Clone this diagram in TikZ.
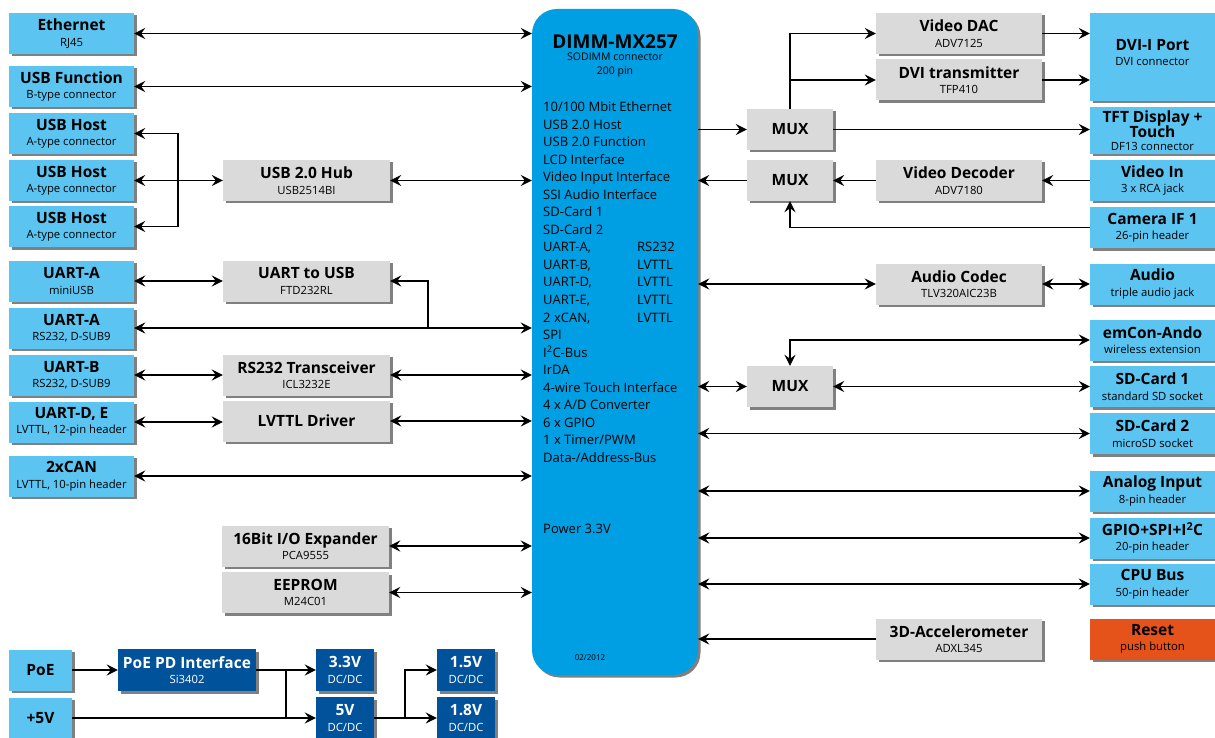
\documentclass[tikz,border=0pt]{standalone}
\usepackage{fontspec}
\setmainfont{Open Sans}
\usepackage{xcolor}
\definecolor{connblue}{RGB}{91,196,241}
\definecolor{dimmblue}{RGB}{0,159,227}
\definecolor{chipgray}{RGB}{218,218,218}
\definecolor{pwrblue}{RGB}{0,82,155}
\definecolor{resetorange}{RGB}{229,82,26}
\usetikzlibrary{arrows.meta, shadows}
\newcommand{\boxhd}[1]{{\fontsize{15.5}{15.5}\selectfont\bfseries #1}}
\newcommand{\boxsub}[1]{{\fontsize{11.3}{15.5}\selectfont #1}}

\begin{document}
\begin{tikzpicture}[
            x=1pt, y=-1pt,
            >={Stealth[length=11pt, width=11pt, inset=4pt]},
            link/.style={line width=1.9pt},
            box/.style={inner sep=0pt, align=center, font=\fontsize{11.3}{15.5}\selectfont,
                drop shadow={shadow xshift=2.5pt, shadow yshift=-2.5pt, opacity=1, fill=black!50}},
            connbox/.style={box, fill=connblue, minimum width=125pt, minimum height=41pt},
            chipbox/.style={box, fill=chipgray, minimum width=167pt, minimum height=41pt},
            muxbox/.style={box, fill=chipgray, minimum width=86pt, minimum height=41pt},
            pwrbox/.style={box, fill=pwrblue, text=white, minimum height=42pt}
            ]

            % Frame
            \useasboundingbox (0,0) rectangle (1215,738);

            % Module
            \node[box, fill=dimmblue, rounded corners=25pt, minimum width=166pt, minimum height=666pt] (dimm) at (615,342) {};
            \node[anchor=base, font=\fontsize{19}{19}\selectfont\bfseries] (dimmtitle) at (615,48.5) {DIMM-MX257};
            \node[anchor=north, align=center, inner sep=0pt, font=\fontsize{10.5}{14}\selectfont] (dimmsub) at (615,52.5) {SODIMM connector\\200 pin};
            \node[anchor=base west, inner sep=0pt, font=\fontsize{13}{17.55}\selectfont] (dimmlist) at (543,111.5) {%
                \begin{tabular}[t]{@{}l@{}}
                10/100 Mbit Ethernet\\
                USB 2.0 Host\\
                USB 2.0 Function\\
                LCD Interface\\
                Video Input Interface\\
                SSI Audio Interface\\
                SD-Card 1\\
                SD-Card 2\\
                \makebox[94pt][l]{UART-A,}RS232\\
                \makebox[94pt][l]{UART-B,}LVTTL\\
                \makebox[94pt][l]{UART-D,}LVTTL\\
                \makebox[94pt][l]{UART-E,}LVTTL\\
                \makebox[94pt][l]{2 xCAN,}LVTTL\\
                SPI\\
                I\textsuperscript{2}C-Bus\\
                IrDA\\
                4-wire Touch Interface\\
                4 x A/D Converter\\
                6 x GPIO\\
                1 x Timer/PWM\\
                Data-/Address-Bus
                \end{tabular}};
            \node[anchor=base west, inner sep=0pt, font=\fontsize{13}{15}\selectfont] (dimmpower) at (543,533.5) {Power 3.3V};
            \node[inner sep=0pt, font=\fontsize{8}{9}\selectfont] (dimmdate) at (590,658) {02/2012};

            % Connectors, left side
            \foreach \nm/\yy/\hdr/\subtxt in {
                eth/33.5/Ethernet/RJ45,
                usbf/86.5/USB Function/B-type connector,
                usbha/133.5/USB Host/A-type connector,
                usbhb/180.5/USB Host/A-type connector,
                usbhc/226.5/USB Host/A-type connector,
                uartmini/281/UART-A/miniUSB,
                uartars/328/UART-A/{RS232, D-SUB9},
                uartb/375/UART-B/{RS232, D-SUB9},
                uartde/422/{UART-D, E}/{LVTTL, 12-pin header},
                can/476/2xCAN/{LVTTL, 10-pin header}
            } {
                \node[connbox] (\nm) at (71.5,\yy) {\boxhd{\hdr}\\\boxsub{\subtxt}};
            }

            % Chips, left side
            \node[chipbox] (hub) at (306.5,180.5) {\boxhd{USB 2.0 Hub}\\\boxsub{USB2514BI}};
            \node[chipbox] (uartusb) at (306.5,281) {\boxhd{UART to USB}\\\boxsub{FTD232RL}};
            \node[chipbox] (rstrx) at (306.5,375) {\boxhd{RS232 Transceiver}\\\boxsub{ICL3232E}};
            \node[chipbox] (lvttl) at (306.5,421) {\boxhd{LVTTL Driver}};
            \node[chipbox] (ioexp) at (305.5,546) {\boxhd{16Bit I/O Expander}\\\boxsub{PCA9555}};
            \node[chipbox] (eeprom) at (305.5,592.5) {\boxhd{EEPROM}\\\boxsub{M24C01}};

            % Power supply
            \node[connbox, minimum width=63pt] (poe) at (40.5,670) {\boxhd{PoE}};
            \node[connbox, minimum width=63pt] (pfive) at (40.5,718) {\boxhd{+5V}};
            \node[pwrbox, minimum width=138pt] (poepd) at (187,670) {\boxhd{PoE PD Interface}\\\boxsub{Si3402}};
            \node[pwrbox, minimum width=58pt] (dcthree) at (345,670) {\boxhd{3.3V}\\\boxsub{DC/DC}};
            \node[pwrbox, minimum width=58pt] (dcfive) at (345,718) {\boxhd{5V}\\\boxsub{DC/DC}};
            \node[pwrbox, minimum width=58pt] (dconefive) at (466,670) {\boxhd{1.5V}\\\boxsub{DC/DC}};
            \node[pwrbox, minimum width=58pt] (dconeeight) at (466,718) {\boxhd{1.8V}\\\boxsub{DC/DC}};

            % Chips, right side
            \node[muxbox] (muxa) at (790,129.5) {\boxhd{MUX}};
            \node[muxbox] (muxb) at (790,180.5) {\boxhd{MUX}};
            \node[muxbox] (muxc) at (790,386.5) {\boxhd{MUX}};
            \node[chipbox, minimum width=166pt] (vdac) at (959,33.5) {\boxhd{Video DAC}\\\boxsub{ADV7125}};
            \node[chipbox, minimum width=166pt] (dvitx) at (959,80) {\boxhd{DVI transmitter}\\\boxsub{TFP410}};
            \node[chipbox, minimum width=166pt] (vdec) at (959,180.5) {\boxhd{Video Decoder}\\\boxsub{ADV7180}};
            \node[chipbox, minimum width=166pt] (codec) at (959,284) {\boxhd{Audio Codec}\\\boxsub{TLV320AIC23B}};
            \node[chipbox, minimum width=166pt] (accel) at (959,639) {\boxhd{3D-Accelerometer}\\\boxsub{ADXL345}};

            % Connectors, right side
            \node[connbox, minimum height=88pt] (dvi) at (1152.5,57) {};
            \node[align=center, inner sep=0pt, font=\fontsize{11.3}{15.5}\selectfont] (dvitext) at (1152.5,52.5) {\boxhd{DVI-I Port}\\\boxsub{DVI connector}};
            \node[connbox, minimum height=47pt] (tft) at (1152.5,130.5) {\boxhd{TFT Display +}\\\boxhd{Touch}\\[-2.5pt]\boxsub{DF13 connector}};
            \foreach \nm/\yy/\hdr/\subtxt in {
                vin/180.5/Video In/3 x RCA jack,
                cam/227.5/Camera IF 1/26-pin header,
                audio/284/Audio/triple audio jack,
                emcon/340/emCon-Ando/wireless extension,
                sdone/386.5/SD-Card 1/standard SD socket,
                sdtwo/433.5/SD-Card 2/microSD socket,
                analog/491/Analog Input/8-pin header,
                gpio/538/GPIO+SPI+I\textsuperscript{2}C/20-pin header,
                cpubus/584/CPU Bus/50-pin header
            } {
                \node[connbox] (\nm) at (1152.5,\yy) {\boxhd{\hdr}\\\boxsub{\subtxt}};
            }
            \node[connbox, fill=resetorange] (reset) at (1152.5,639) {\boxhd{Reset}\\\boxsub{push button}};

            % Links, left side
            \draw[link, <->] (eth.east) -- (eth -| dimm.west);
            \draw[link, <->] (usbf.east) -- (usbf -| dimm.west);
            \coordinate (hubsplit) at (178,180.5);
            \draw[link, <->] (usbha.east) -| (hubsplit) |- (usbhc.east);
            \draw[link, <->] (usbhb.east) -- (hub.west);
            \draw[link, <->] (hub.east) -- (hub -| dimm.west);
            \draw[link, <->] (uartmini.east) -- (uartusb.west);
            \coordinate (usbjoin) at (428,328);
            \draw[link, <-] (uartusb.east) -| (usbjoin);
            \draw[link, <->] (uartars.east) -- (uartars -| dimm.west);
            \draw[link, <->] (uartb.east) -- (rstrx.west);
            \draw[link, <->] (rstrx.east) -- (rstrx -| dimm.west);
            \draw[link, <->] (uartde.east) -- (uartde -| lvttl.west);
            \draw[link, <->] (lvttl.east) -- (lvttl -| dimm.west);
            \draw[link, <->] (can.east) -- (can -| dimm.west);
            \draw[link, <->] (ioexp.east) -- (ioexp -| dimm.west);
            \draw[link, <->] (eeprom.east) -- (eeprom -| dimm.west);

            % Links, power
            \draw[link, ->] (poe) -- (poepd);
            \draw[link, ->] (poepd) -- (dcthree);
            \draw[link, ->] (pfive) -- (dcfive);
            \coordinate (pwrsplit) at (286,718);
            \draw[link] (pwrsplit |- poepd) -- (pwrsplit);
            \draw[link, ->] (dcfive) -- (dconeeight);
            \coordinate (dcsplit) at (405,718);
            \draw[link, ->] (dcsplit) |- (dconefive.west);

            % Links, right side
            \draw[link, ->] (muxa -| dimm.east) -- (muxa.west);
            \draw[link, ->] (muxa.east) -- (muxa -| tft.west);
            \draw[link, ->] (muxa.north) |- (vdac.west);
            \draw[link, ->] (muxa.north |- dvitx) -- (dvitx.west);
            \draw[link, ->] (vdac.east) -- (vdac -| dvi.west);
            \draw[link, ->] (dvitx.east) -- (dvitx -| dvi.west);
            \draw[link, ->] (vin.west) -- (vdec.east);
            \draw[link, ->] (vdec.west) -- (muxb.east);
            \draw[link, ->] (muxb.west) -- (muxb -| dimm.east);
            \draw[link, ->] (cam.west) -| (muxb.south);
            \draw[link, <->] (codec -| dimm.east) -- (codec.west);
            \draw[link, <->] (codec.east) -- (audio.west);
            \draw[link, <->] (emcon.west) -| (muxc.north);
            \draw[link, <->] (muxc -| dimm.east) -- (muxc.west);
            \draw[link, <->] (muxc.east) -- (sdone.west);
            \draw[link, <->] (sdtwo -| dimm.east) -- (sdtwo.west);
            \draw[link, <->] (analog -| dimm.east) -- (analog.west);
            \draw[link, <->] (gpio -| dimm.east) -- (gpio.west);
            \draw[link, <->] (cpubus -| dimm.east) -- (cpubus.west);
            \draw[link, ->] (accel.west) -- (accel -| dimm.east);
\end{tikzpicture}
\end{document}
